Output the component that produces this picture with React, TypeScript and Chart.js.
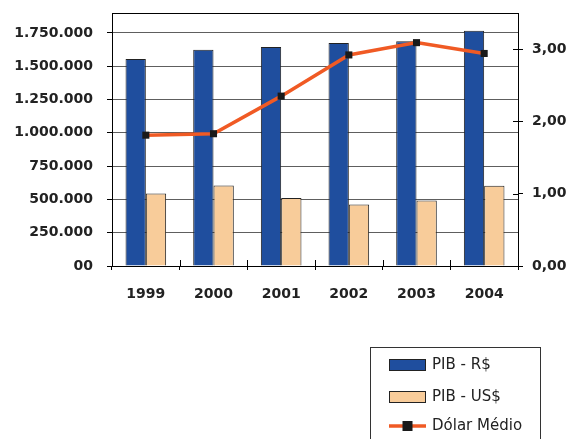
import React, { useEffect, useRef } from "react";
import { Chart, registerables } from "chart.js";

Chart.register(...registerables);

// Brazilian GDP (R$ and US$) and the average dollar rate, 1999–2004
const categories = ["1999", "2000", "2001", "2002", "2003", "2004"];
const pibReais = [1554000, 1624000, 1645000, 1675000, 1687000, 1767000];
const pibDolar = [545000, 605000, 510000, 462000, 492000, 602000];
const dolarMedio = [1.81, 1.83, 2.35, 2.92, 3.09, 2.94];

const leftMax = 1900000;
const leftTicks = [0, 250000, 500000, 750000, 1000000, 1250000, 1500000, 1750000];
const rightMax = 3.5;
const rightTicks = [0, 1, 2, 3];

const seriesNames = ["PIB - R$", "PIB - US$", "Dólar Médio"];

const BLUE = "#1f4e9e";
const TAN = "#f8cc9a";
const ORANGE = "#f05a24";
const MARKER = "#1a1a1a";
const EDGE = "#222222";
const GRID = "#5e5e5e";
const FONT = "'DejaVu Sans', Verdana, sans-serif";

const fmtThousands = (v: number) =>
  v === 0 ? "00" : Math.round(v).toString().replace(/\B(?=(\d{3})+(?!\d))/g, ".");
const fmtRate = (v: number) => v.toFixed(2).replace(".", ",");

// Frame, crossing tick marks and the boxed legend below the plot
const decorations = {
  id: "decorations",
  afterDraw(chart: any) {
    const { ctx, chartArea } = chart;
    const x = chart.scales.x;
    const y1 = chart.scales.y1;
    ctx.save();
    ctx.strokeStyle = "#000";
    ctx.lineWidth = 1;

    // top edge of the plot
    ctx.beginPath();
    ctx.moveTo(chartArea.left, Math.round(chartArea.top) + 0.5);
    ctx.lineTo(chartArea.right + 0.5, Math.round(chartArea.top) + 0.5);
    ctx.stroke();

    // category ticks extend a little into the plot
    const n = categories.length;
    for (let i = 0; i <= n; i++) {
      const px = Math.round(x.left + (i * x.width) / n) + 0.5;
      ctx.beginPath();
      ctx.moveTo(px, chartArea.bottom);
      ctx.lineTo(px, chartArea.bottom - 6);
      ctx.stroke();
    }

    // right axis ticks extend into the plot
    y1.ticks.forEach((t: any) => {
      const py = Math.round(y1.getPixelForValue(t.value)) + 0.5;
      ctx.beginPath();
      ctx.moveTo(chartArea.right - 5, py);
      ctx.lineTo(chartArea.right, py);
      ctx.stroke();
    });

    // legend
    ctx.strokeStyle = "#333";
    ctx.strokeRect(370.5, 347.5, 170, 110);
    ctx.font = `15px ${FONT}`;
    ctx.textBaseline = "middle";
    ctx.textAlign = "left";

    ctx.fillStyle = BLUE;
    ctx.fillRect(389.5, 359.5, 36, 11);
    ctx.strokeStyle = EDGE;
    ctx.strokeRect(389.5, 359.5, 36, 11);
    ctx.fillStyle = "#222";
    ctx.fillText(seriesNames[0], 432, 365.5);

    ctx.fillStyle = TAN;
    ctx.fillRect(389.5, 391.5, 36, 11);
    ctx.strokeRect(389.5, 391.5, 36, 11);
    ctx.fillStyle = "#222";
    ctx.fillText(seriesNames[1], 432, 397.5);

    ctx.strokeStyle = ORANGE;
    ctx.lineWidth = 3.5;
    ctx.beginPath();
    ctx.moveTo(389, 426);
    ctx.lineTo(426, 426);
    ctx.stroke();
    ctx.fillStyle = MARKER;
    ctx.fillRect(402.5, 421, 10, 10);
    ctx.fillStyle = "#222";
    ctx.fillText(seriesNames[2], 432, 426.5);

    ctx.restore();
  },
};

const noLabelPadding = (scale: any) => {
  scale.paddingTop = 0;
  scale.paddingBottom = 0;
  scale.paddingLeft = 0;
  scale.paddingRight = 0;
};

export default function App() {
  const ref = useRef<HTMLCanvasElement | null>(null);

  useEffect(() => {
    if (!ref.current) return;
    const chart = new Chart(ref.current, {
      type: "bar",
      data: {
        labels: categories,
        datasets: [
          {
            type: "line",
            label: seriesNames[2],
            data: dolarMedio,
            yAxisID: "y1",
            borderColor: ORANGE,
            borderWidth: 3.5,
            pointStyle: "rect",
            pointRadius: 5,
            pointBackgroundColor: MARKER,
            pointBorderColor: MARKER,
            pointBorderWidth: 0,
            tension: 0,
            order: 0,
          } as any,
          {
            type: "bar",
            label: seriesNames[0],
            data: pibReais,
            yAxisID: "y",
            backgroundColor: BLUE,
            borderColor: EDGE,
            borderWidth: 1,
            categoryPercentage: 0.6,
            barPercentage: 1,
            order: 1,
          },
          {
            type: "bar",
            label: seriesNames[1],
            data: pibDolar,
            yAxisID: "y",
            backgroundColor: TAN,
            borderColor: EDGE,
            borderWidth: 1,
            categoryPercentage: 0.6,
            barPercentage: 1,
            order: 1,
          },
        ],
      },
      options: {
        animation: false,
        responsive: true,
        maintainAspectRatio: false,
        layout: { padding: { top: 13, left: 0, right: 0, bottom: 0 } },
        plugins: { legend: { display: false }, tooltip: { enabled: false } },
        scales: {
          x: {
            offset: true,
            grid: {
              offset: true,
              drawOnChartArea: false,
              drawTicks: true,
              tickLength: 4,
              tickColor: "#000",
              color: "#000",
            },
            border: { color: "#000", width: 1 },
            ticks: {
              color: "#222",
              padding: 16,
              font: { family: FONT, size: 14, weight: "bold" },
            },
            afterFit(scale: any) {
              scale.height = 173;
              noLabelPadding(scale);
            },
          },
          y: {
            position: "left",
            min: 0,
            max: leftMax,
            grid: {
              color: GRID,
              tickColor: "#000",
              tickLength: 5,
              lineWidth: 1,
            },
            border: { color: "#000", width: 1 },
            ticks: {
              color: "#222",
              padding: 14,
              font: { family: FONT, size: 14, weight: "bold" },
              callback: (v: any) => fmtThousands(Number(v)),
            },
            afterBuildTicks(scale: any) {
              scale.ticks = leftTicks.map((value) => ({ value }));
            },
            afterFit(scale: any) {
              scale.width = 112;
              noLabelPadding(scale);
            },
          },
          y1: {
            position: "right",
            min: 0,
            max: rightMax,
            grid: {
              drawOnChartArea: false,
              tickColor: "#000",
              tickLength: 5,
              color: "#000",
            },
            border: { color: "#000", width: 1 },
            ticks: {
              color: "#222",
              padding: 9,
              font: { family: FONT, size: 14, weight: "bold" },
              callback: (v: any) => fmtRate(Number(v)),
            },
            afterBuildTicks(scale: any) {
              scale.ticks = rightTicks.map((value) => ({ value }));
            },
            afterFit(scale: any) {
              scale.width = 52;
              noLabelPadding(scale);
            },
          },
        },
      },
      plugins: [decorations],
    });
    return () => chart.destroy();
  }, []);

  return (
    <div style={{ position: "fixed", left: 0, top: 0, width: 570, height: 439, background: "#fff" }}>
      <canvas ref={ref} />
    </div>
  );
}
